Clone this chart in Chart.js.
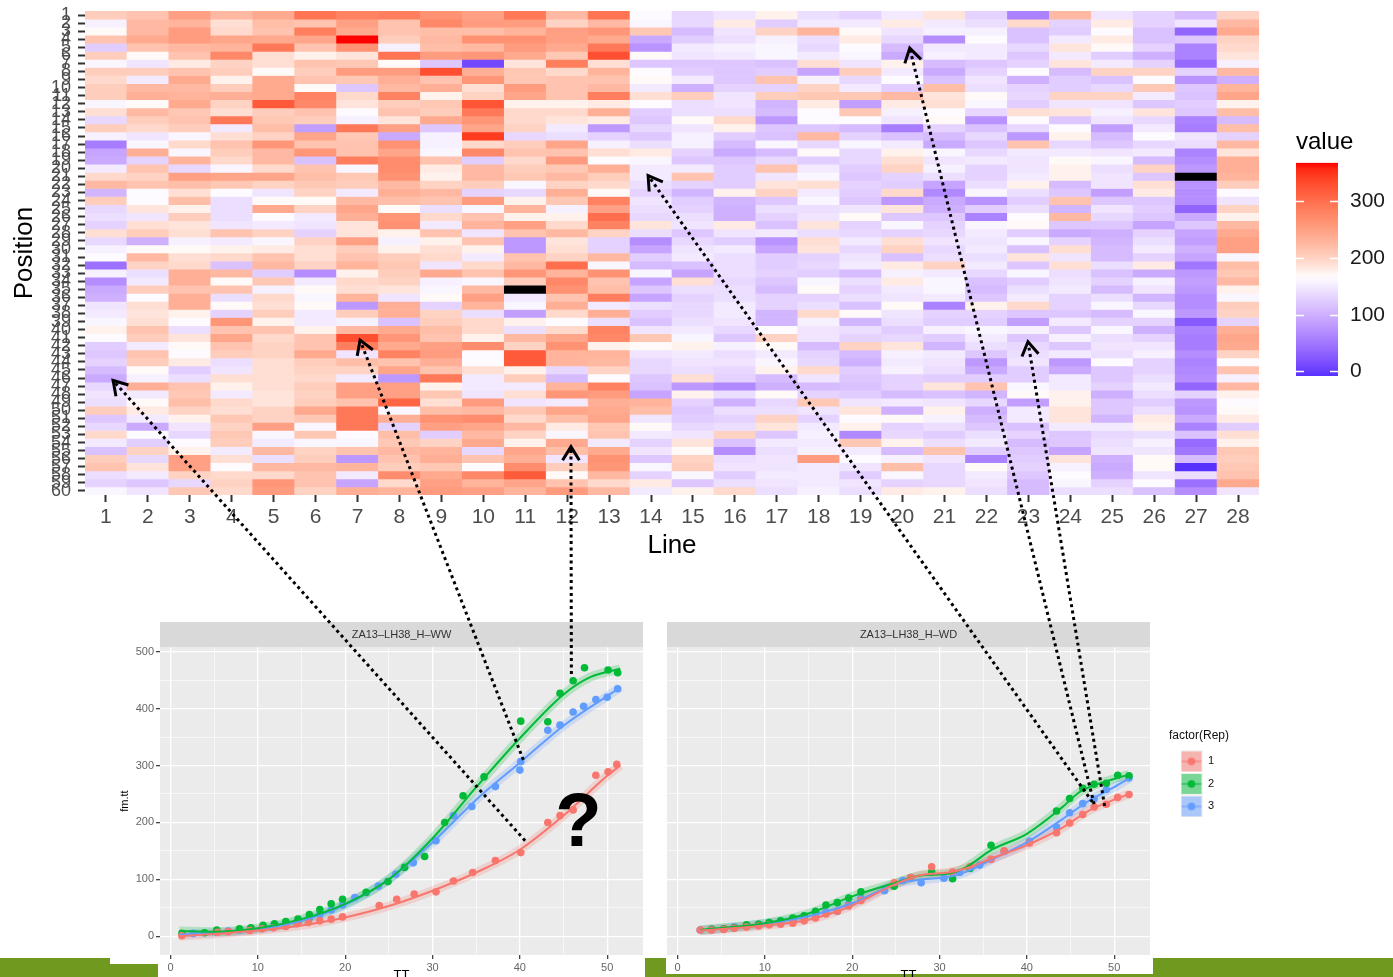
<!DOCTYPE html>
<html lang="en">
<head>
<meta charset="UTF-8" />
<title>Position x Line heatmap with growth curves</title>
<script src="https://cdn.jsdelivr.net/npm/chart.js"></script>
<style>
  body {
    margin: 0;
    width: 1393px;
    height: 977px;
    overflow: hidden;
    position: relative;
    background: #fff;
    font-family: 'Liberation Sans', Arial, sans-serif;
  }
  canvas, .block { position: absolute; }
  .green { left: 0; top: 958px; width: 1393px; height: 19px; background: #6f9a1f; }
  .white { background: #fff; }
  #overlay { z-index: 10; pointer-events: none; }
</style>
</head>
<body>
  <div class="block green"></div>
  <div class="block white" style="left:110px;top:600px;width:535px;height:364px"></div>
  <div class="block white" style="left:158px;top:964px;width:487px;height:13px"></div>
  <div class="block white" style="left:666px;top:600px;width:487px;height:374px"></div>

  <canvas id="heat" width="1275" height="565" style="left:0;top:0"></canvas>
  <canvas id="colorbar" width="108" height="260" style="left:1285px;top:125px"></canvas>
  <canvas id="ww" width="540" height="380" style="left:110px;top:612px"></canvas>
  <canvas id="wd" width="733" height="380" style="left:660px;top:612px"></canvas>
  <canvas id="overlay" width="1393" height="977" style="left:0;top:0"></canvas>

<script>
// ---- heatmap: one row per Position, one column per Line ----
const lines = [1,2,3,4,5,6,7,8,9,10,11,12,13,14,15,16,17,18,19,20,21,22,23,24,25,26,27,28];
const positions = [1,2,3,4,5,6,7,8,9,10,11,12,13,14,15,16,17,18,19,20,21,22,23,24,25,26,27,28,29,30,
  31,32,33,34,35,36,37,38,39,40,41,42,43,44,45,46,47,48,49,50,51,52,53,54,55,56,57,58,59,60];
const colorbarTicks = [0, 100, 200, 300];

// null = missing value (drawn black)
const cellValues = [
  [205,215,250,225,240,295,280,285,265,250,290,225,295,165,135,145,175,140,130,150,185,130,60,225,145,130,110,200],
  [155,225,230,190,220,215,250,215,275,255,255,200,225,160,135,180,125,150,150,180,150,140,195,130,180,130,145,225],
  [170,225,255,195,215,285,240,215,220,220,230,250,260,210,110,145,200,230,170,145,155,155,115,125,165,115,35,240],
  [215,240,255,245,240,245,368,205,225,265,265,250,240,95,125,140,155,140,180,135,70,165,115,150,180,115,120,200],
  [125,215,225,230,290,215,265,155,220,225,255,240,290,75,150,155,160,135,165,110,150,150,135,185,170,130,60,195],
  [205,170,215,275,190,175,185,295,255,260,240,210,330,170,145,150,160,150,160,95,155,150,120,150,125,100,60,185],
  [160,145,180,200,190,215,210,170,120,10,185,285,190,120,120,120,115,190,145,175,110,120,130,185,150,130,40,155],
  [205,205,215,205,170,205,255,255,330,235,210,195,230,165,125,120,125,90,205,150,95,130,165,110,200,200,130,225],
  [195,150,240,175,240,215,210,235,215,260,210,215,215,170,150,120,215,155,135,165,115,145,100,125,115,165,75,100],
  [205,225,225,205,240,170,120,225,235,190,255,215,225,150,100,130,130,200,150,125,220,140,130,125,135,210,120,230],
  [205,235,230,235,240,280,195,280,175,200,245,215,285,190,205,145,205,210,210,225,185,170,135,200,200,150,115,245],
  [160,170,240,200,320,275,185,205,210,325,175,175,180,165,140,145,105,180,85,180,190,160,125,145,145,120,125,175],
  [190,225,210,190,205,215,165,215,205,290,195,195,235,125,140,140,110,165,210,155,165,135,190,185,155,185,120,220],
  [135,205,215,290,210,205,155,185,240,260,195,185,180,120,170,195,80,165,165,145,170,75,165,120,145,135,60,110],
  [205,195,205,150,220,85,290,250,120,245,200,150,80,135,145,175,120,120,110,55,130,115,135,165,85,150,55,220],
  [155,145,160,190,200,245,210,95,155,345,135,140,130,120,155,125,115,225,130,115,110,135,80,175,110,165,145,130],
  [55,160,195,215,260,215,215,265,155,195,205,245,155,140,155,110,160,135,160,150,95,120,215,135,120,135,140,225],
  [90,235,160,205,225,260,215,245,160,275,215,215,190,180,130,95,110,170,135,175,160,135,150,150,145,150,60,185],
  [95,130,230,195,225,115,285,270,215,125,195,255,165,160,120,120,135,125,135,190,145,150,145,170,160,110,70,235],
  [150,215,135,160,195,215,160,270,180,225,205,210,235,150,150,125,215,150,125,200,155,130,145,175,140,200,80,235],
  [195,200,250,245,245,220,210,265,175,225,210,225,205,150,215,125,145,160,120,130,140,130,150,175,145,120,null,230],
  [225,215,220,210,200,210,205,225,200,205,160,200,195,140,130,125,185,190,130,125,90,140,175,110,145,190,75,205],
  [105,165,190,165,145,200,150,235,225,130,135,235,170,130,105,175,200,150,125,195,65,160,140,120,85,180,70,165],
  [205,165,220,140,170,170,225,220,215,255,175,210,280,145,125,105,120,160,120,80,95,75,125,215,120,120,70,145],
  [135,185,175,140,240,200,245,170,140,160,230,155,250,140,130,100,140,140,145,185,100,125,140,105,145,125,35,200],
  [140,145,205,140,165,150,235,260,195,215,175,175,300,135,140,100,130,145,170,120,120,60,165,225,135,120,95,175],
  [130,190,185,145,150,145,185,265,150,230,250,195,280,185,145,180,115,185,130,160,130,160,170,120,120,90,120,225],
  [190,205,190,215,200,130,185,175,215,145,215,225,200,140,120,145,150,140,135,130,135,150,125,95,100,130,90,240],
  [135,100,155,150,160,200,250,155,175,215,80,185,130,70,135,125,75,190,150,190,145,145,160,130,105,140,85,250],
  [155,170,170,175,180,190,205,175,190,175,80,190,130,90,145,150,90,185,135,200,135,150,115,190,110,150,100,250],
  [165,225,190,195,215,190,215,205,195,150,215,200,225,125,150,140,125,130,145,115,140,140,185,145,110,130,90,160],
  [45,200,195,115,225,200,230,210,145,195,225,300,160,110,115,140,125,135,150,180,200,150,120,190,140,180,50,220],
  [155,140,235,225,125,70,175,205,240,215,260,230,265,160,90,140,130,125,110,155,150,135,160,140,115,95,80,210],
  [70,150,235,170,210,150,195,200,155,160,205,275,215,90,190,135,120,160,140,180,160,115,125,145,130,155,85,225],
  [95,205,215,215,155,170,190,185,160,225,null,265,220,120,140,140,110,170,130,150,160,110,140,150,110,145,80,175],
  [100,165,235,140,195,160,230,145,170,250,150,215,285,90,130,140,130,130,140,145,150,120,150,130,140,105,70,160],
  [145,190,235,170,190,170,80,235,130,230,160,235,150,140,135,150,130,140,115,170,60,175,195,130,160,135,70,205],
  [150,185,175,130,205,150,205,235,200,140,85,195,235,125,135,150,105,195,170,145,130,130,120,120,110,160,80,200],
  [160,190,165,260,175,150,155,115,205,195,175,165,140,115,140,145,105,155,105,140,125,125,85,150,130,130,25,130],
  [175,215,140,215,215,175,225,240,220,195,140,195,280,145,150,135,165,145,140,125,155,160,155,120,160,100,60,235],
  [165,205,185,245,195,215,330,260,215,175,225,245,275,210,160,120,200,145,130,135,125,150,120,155,140,130,55,245],
  [125,150,170,215,200,215,285,240,250,270,200,265,175,170,175,155,170,110,200,185,105,140,135,120,145,145,55,240],
  [120,215,165,205,200,240,145,280,255,165,320,230,230,145,150,140,150,130,110,155,150,120,140,150,140,155,70,200],
  [130,205,180,140,190,205,220,215,235,165,320,230,225,135,145,145,160,135,100,150,145,80,145,80,165,130,60,165],
  [110,170,125,145,190,200,200,245,215,190,175,135,200,135,140,135,175,195,125,155,140,95,125,95,120,130,65,215],
  [95,155,140,190,190,195,150,80,290,150,205,110,165,120,190,130,110,145,120,130,125,125,125,150,120,140,70,155],
  [135,235,215,175,190,205,250,250,175,150,150,230,280,115,80,65,100,110,115,130,185,215,160,150,130,150,35,225],
  [145,150,210,150,185,200,250,250,210,145,190,260,255,90,175,140,170,130,125,110,115,105,170,175,100,140,130,175],
  [140,170,220,195,185,205,215,310,190,255,145,150,235,230,130,100,135,210,145,150,145,135,85,175,120,125,80,165],
  [205,180,200,190,200,240,290,160,220,225,210,245,240,220,120,140,140,145,185,100,175,100,150,185,120,140,75,170],
  [120,150,175,210,200,210,290,235,265,270,195,220,245,145,125,130,200,130,165,170,155,110,150,185,105,180,95,180],
  [135,95,145,200,250,160,290,130,250,245,225,180,210,170,135,140,185,150,175,130,140,120,115,150,150,175,60,125],
  [195,165,135,210,160,210,165,220,125,225,200,160,215,150,145,200,120,155,65,135,125,140,130,120,135,140,115,190],
  [150,125,165,205,150,160,160,210,200,240,175,240,150,130,185,115,150,150,210,175,140,150,110,120,140,155,40,175],
  [115,200,175,150,225,200,215,225,230,135,245,220,240,145,170,70,140,155,150,110,215,125,120,90,145,145,50,210],
  [205,135,250,190,140,205,80,215,235,215,235,145,265,120,200,140,145,255,165,155,145,60,125,185,100,170,110,205],
  [215,185,250,165,225,225,230,205,210,165,270,205,260,160,205,145,145,150,145,220,135,170,130,155,95,170,-8,210],
  [140,150,200,195,195,215,150,270,240,275,320,170,225,130,160,125,150,150,125,160,135,150,120,165,100,145,140,215],
  [130,120,135,200,260,215,90,195,250,230,245,215,195,180,120,140,145,150,145,130,135,145,110,160,130,165,45,240],
  [160,145,210,195,255,200,235,230,255,250,230,255,225,150,175,195,140,155,140,180,175,140,110,140,140,115,70,145]
];

// ---- growth curves (TT, fm.tt) per replicate ----
const wwRep1 = [[1.3,1],[5.4,7],[6.6,8],[9.1,10],[10.5,13],[11.8,15],[13.2,17],[14.5,22],[15.8,24],[17.1,27],[18.4,30],[19.7,34],
  [23.9,54],[25.9,65],[27.9,74],[30.4,78],[32.4,97],[34.6,112],[37.2,133],[40.1,147],[43.2,200],[44.6,212],[46.1,222],[48.7,283],[50.1,289],[51.1,302]];
const wwRep2 = [[1.3,5],[3.9,6],[5.3,11],[7.9,13],[9.2,15],[10.6,19],[11.9,22],[13.2,26],[14.6,30],[15.9,38],[17.1,47],[18.4,57],[19.7,65],
  [22.4,77],[24.9,96],[26.8,121],[29.1,140],[31.4,200],[33.5,247],[35.9,280],[40.1,378],[43.2,377],[44.6,427],[46.1,449],[47.4,472],[50.1,468],[51.2,463]];
const wwRep3 = [[2.6,5],[5.3,7],[6.6,9],[7.9,11],[9.2,13],[10.6,16],[11.9,19],[13.2,20],[14.6,24],[15.9,32],[17.1,38],[18.4,46],[19.7,55],
  [21.1,68],[23.8,88],[25.8,109],[27.8,129],[30.4,168],[32.4,212],[34.5,228],[37.2,263],[40.0,292],[40.1,307],[43.2,362],[44.6,371],[46.1,394],
  [47.3,404],[48.7,416],[50.0,420],[51.2,435]];
const wwFit1 = [[1,0],[5,4],[10,10],[15,19],[20,33],[25,53],[30,80],[35,112],[40,152],[45,212],[50,282],[51.5,300]];
const wwFit2 = [[1,9],[5,8],[10,14],[15,30],[20,57],[25,100],[30,172],[35,262],[40,348],[45,425],[48,455],[51.5,470]];
const wwFit3 = [[1,3],[5,6],[10,12],[15,27],[20,55],[25,100],[30,165],[35,240],[40,305],[45,370],[50,422],[51.5,437]];

const wdRep1 = [[2.6,11],[3.9,11],[5.3,12],[6.5,14],[7.9,16],[9.3,18],[10.5,20],[11.8,21],[13.2,23],[14.5,27],[15.8,32],[17.0,39],[18.3,44],
  [19.6,53],[21.0,63],[24.8,94],[26.7,103],[29.1,122],[31.5,113],[33.5,122],[35.9,135],[37.4,150],[40.3,164],[43.4,182],[44.9,199],[46.4,214],
  [47.7,227],[49.1,232],[50.4,244],[51.7,249]];
const wdRep2 = [[3.9,12],[5.3,13],[6.5,15],[7.9,20],[9.3,21],[10.5,24],[11.8,27],[13.2,32],[14.5,36],[15.8,44],[17.0,55],[18.3,59],[19.6,67],
  [21.0,78],[24.8,88],[26.7,103],[29.1,113],[31.5,101],[33.5,119],[35.9,160],[43.4,220],[44.9,242],[46.4,260],[47.7,267],[49.1,269],[50.4,283],[51.7,282]];
const wdRep3 = [[2.6,11],[3.9,12],[5.3,13],[6.5,16],[7.9,18],[9.3,21],[10.5,24],[11.8,26],[13.2,28],[14.5,34],[15.8,37],[17.0,42],[18.3,44],
  [19.6,56],[21.0,67],[23.7,80],[25.8,98],[27.9,94],[30.5,102],[32.3,112],[34.6,125],[37.4,149],[40.3,167],[43.4,192],[44.9,217],[46.4,233],
  [47.7,241],[49.1,258],[51.7,278]];
const wdFit1 = [[2.6,10],[10,19],[15,29],[20,54],[25,92],[28,108],[31,112],[33,119],[36,137],[40,160],[44,190],[47,220],[50,240],[51.7,250]];
const wdFit2 = [[2.6,11],[10,23],[15,40],[20,70],[25,94],[28,107],[31,110],[33,121],[36,152],[40,180],[44,226],[46,253],[48,267],[51.7,284]];
const wdFit3 = [[2.6,10],[10,22],[15,35],[20,58],[25,92],[28,100],[31,104],[33,113],[36,135],[40,165],[44,205],[47,237],[50,262],[51.7,277]];

const repNames = ['1', '2', '3'];
const repColors = ['#F8766D', '#00BA38', '#619CFF'];
const ttMajor = [0, 10, 20, 30, 40, 50];
const ttMinor = [5, 15, 25, 35, 45];
const fmMajor = [0, 100, 200, 300, 400, 500];
const fmMinor = [50, 150, 250, 350, 450];

// dotted arrows: curve point [panel, TT, fm.tt] -> heatmap cell [Line, Position]
const arrowFrom = [['WW', 40.6, 168], ['WW', 40.4, 310], ['WW', 45.9, 461], ['WD', 47.5, 236], ['WD', 47.7, 232], ['WD', 48.9, 229]];
const arrowTo = [[1.17, 46.3], [7.06, 41.3], [12.09, 54.5], [13.93, 20.9], [20.17, 5.1], [22.99, 41.5]];

// ---- diverging blue / white / red fill, interpolated in Lab ----
const fillMid = 168;
const flat = cellValues.flat().filter(v => v !== null);
const valueMin = Math.min(...flat);
const valueMax = Math.max(...flat);
const halfRange = Math.max(fillMid - valueMin, valueMax - fillMid);

function hexToLab(hex) {
  const c = [1, 3, 5].map(i => parseInt(hex.slice(i, i + 2), 16) / 255)
    .map(v => v <= 0.04045 ? v / 12.92 : Math.pow((v + 0.055) / 1.055, 2.4));
  const x = (0.4124 * c[0] + 0.3576 * c[1] + 0.1805 * c[2]) / 0.95047;
  const y = 0.2126 * c[0] + 0.7152 * c[1] + 0.0722 * c[2];
  const z = (0.0193 * c[0] + 0.1192 * c[1] + 0.9505 * c[2]) / 1.08883;
  const f = t => t > 0.008856 ? Math.cbrt(t) : 7.787 * t + 16 / 116;
  return [116 * f(y) - 16, 500 * (f(x) - f(y)), 200 * (f(y) - f(z))];
}

function labToRgb(L, a, b) {
  const fy = (L + 16) / 116, fx = fy + a / 500, fz = fy - b / 200;
  const inv = t => t * t * t > 0.008856 ? t * t * t : (t - 16 / 116) / 7.787;
  const x = inv(fx) * 0.95047, y = inv(fy), z = inv(fz) * 1.08883;
  const lin = [
    3.2406 * x - 1.5372 * y - 0.4986 * z,
    -0.9689 * x + 1.8758 * y + 0.0415 * z,
    0.0557 * x - 0.2040 * y + 1.0570 * z
  ];
  const rgb = lin.map(v => {
    const s = v <= 0.0031308 ? 12.92 * v : 1.055 * Math.pow(Math.max(v, 0), 1 / 2.4) - 0.055;
    return Math.round(Math.min(1, Math.max(0, s)) * 255);
  });
  return `rgb(${rgb[0]},${rgb[1]},${rgb[2]})`;
}

const labLow = hexToLab('#0000FF');
const labMid = hexToLab('#FFFFFF');
const labHigh = hexToLab('#FF0000');

function fillColor(v) {
  if (v === null) return '#000000';
  const t = 0.5 + (v - fillMid) / (2 * halfRange);
  let from, to, k;
  if (t < 0.5) { from = labLow; to = labMid; k = t / 0.5; }
  else { from = labMid; to = labHigh; k = Math.pow((t - 0.5) / 0.5, 0.8); }
  return labToRgb(...from.map((c, i) => c + (to[i] - c) * k));
}

Chart.defaults.font.family = "'Liberation Sans', Arial, sans-serif";

// ---- heatmap ----
const heatChart = new Chart(document.getElementById('heat'), {
  type: 'bar',
  data: {
    labels: lines.map(String),
    datasets: positions.map((p, i) => ({
      data: lines.map(() => [p - 0.5, p + 0.5]),
      backgroundColor: cellValues[i].map(fillColor),
      borderWidth: 0,
      grouped: false,
      barPercentage: 1,
      categoryPercentage: 1
    }))
  },
  options: {
    responsive: false,
    animation: false,
    layout: { padding: { top: 11, right: 16, left: 0, bottom: 0 } },
    plugins: { legend: { display: false }, tooltip: { enabled: false } },
    scales: {
      x: {
        grid: { drawOnChartArea: false, offset: false, tickLength: 7, tickWidth: 2, tickColor: '#333' },
        border: { display: false },
        ticks: { font: { size: 21 }, color: '#4d4d4d', padding: 3, maxRotation: 0, autoSkip: false },
        title: { display: true, text: 'Line', font: { size: 26 }, color: '#000', padding: { top: 0, bottom: 4 } },
        afterFit: s => { s.height = 70; s.paddingLeft = 0; s.paddingRight = 0; }
      },
      y: {
        type: 'linear',
        reverse: true,
        min: 0.5,
        max: 60.5,
        afterBuildTicks: s => { s.ticks = positions.map(v => ({ value: v })); },
        grid: { drawOnChartArea: false, tickLength: 7, tickWidth: 2, tickColor: '#333' },
        border: { display: false },
        ticks: { font: { size: 18 }, color: '#4d4d4d', autoSkip: false, padding: 7 },
        title: { display: true, text: 'Position', font: { size: 26 }, color: '#000', padding: { top: 9, bottom: 0 } },
        afterFit: s => { s.width = 85; s.paddingTop = 0; s.paddingBottom = 0; }
      }
    }
  }
});

// ---- colour bar legend ----
function barGradient(chart) {
  const y = chart.scales.y;
  if (!y || !chart.chartArea) return '#fff';
  const p0 = y.getPixelForValue(valueMin), p1 = y.getPixelForValue(valueMax);
  if (!isFinite(p0) || !isFinite(p1)) return '#fff';
  const g = chart.ctx.createLinearGradient(0, p0, 0, p1);
  for (let k = 0; k <= 40; k++) {
    g.addColorStop(k / 40, fillColor(valueMin + (valueMax - valueMin) * k / 40));
  }
  return g;
}

const colorbarMarks = {
  id: 'colorbarMarks',
  afterDatasetsDraw(chart) {
    const { ctx, chartArea: a, scales: { y } } = chart;
    ctx.save();
    ctx.strokeStyle = '#fff';
    ctx.lineWidth = 1.5;
    colorbarTicks.forEach(v => {
      const py = Math.round(y.getPixelForValue(v)) + 0.5;
      ctx.beginPath();
      ctx.moveTo(a.left, py); ctx.lineTo(a.left + 8, py);
      ctx.moveTo(a.right - 8, py); ctx.lineTo(a.right, py);
      ctx.stroke();
    });
    ctx.restore();
  }
};

const colorbarChart = new Chart(document.getElementById('colorbar'), {
  type: 'bar',
  data: {
    labels: [''],
    datasets: [{
      data: [[valueMin, valueMax]],
      backgroundColor: ctx => barGradient(ctx.chart),
      borderWidth: 0,
      barPercentage: 1,
      categoryPercentage: 1
    }]
  },
  options: {
    responsive: false,
    animation: false,
    layout: { padding: { left: 11, right: 0, top: 0, bottom: 9 } },
    plugins: {
      legend: { display: false },
      tooltip: { enabled: false },
      title: { display: true, text: 'value', align: 'start', font: { size: 24, weight: 'normal' }, color: '#000', padding: { top: 3, bottom: 6 } }
    },
    scales: {
      x: { display: false },
      y: {
        position: 'right',
        min: valueMin,
        max: valueMax,
        afterBuildTicks: s => { s.ticks = colorbarTicks.map(v => ({ value: v })); },
        grid: { display: false, drawTicks: false },
        border: { display: false },
        ticks: { font: { size: 21 }, color: '#1a1a1a', padding: 12 },
        afterFit: s => { s.width = 55; s.paddingTop = 0; s.paddingBottom = 0; }
      }
    }
  },
  plugins: [colorbarMarks]
});
colorbarChart.update();

// ---- growth curve panels ----
const panelLook = {
  id: 'panelLook',
  beforeDraw(chart) {
    const { ctx, chartArea: a } = chart;
    ctx.save();
    ctx.fillStyle = '#ebebeb';
    ctx.fillRect(a.left, a.top, a.right - a.left, a.bottom - a.top);
    const t = chart.titleBlock;
    if (t) {
      ctx.fillStyle = '#d9d9d9';
      ctx.fillRect(a.left, t.top, a.right - a.left, a.top - t.top);
    }
    ctx.restore();
  }
};

const questionMark = {
  id: 'questionMark',
  afterDatasetsDraw(chart, args, opts) {
    if (!opts.show) return;
    const { ctx, scales: { x, y } } = chart;
    ctx.save();
    ctx.font = "bold 76px 'Liberation Sans', Arial, sans-serif";
    ctx.fillStyle = '#000';
    ctx.textAlign = 'center';
    ctx.textBaseline = 'alphabetic';
    ctx.fillText('?', x.getPixelForValue(46.7), y.getPixelForValue(159));
    ctx.restore();
  }
};

// keeps the legend box wide enough for its title
const legendWidth = {
  id: 'legendWidth',
  afterInit(chart, args, opts) {
    const lg = chart.legend;
    if (!lg || !opts.width) return;
    const fit = lg.fit.bind(lg);
    lg.fit = function () { fit(); this.width = opts.width; };
  }
};

function withAlpha(hex, a) {
  const n = parseInt(hex.slice(1), 16);
  return `rgba(${n >> 16},${(n >> 8) & 255},${n & 255},${a})`;
}

function keyImage(color) {
  const c = document.createElement('canvas');
  c.width = 22; c.height = 22;
  const g = c.getContext('2d');
  g.fillStyle = '#f2f2f2';
  g.fillRect(0, 0, 22, 22);
  g.fillStyle = withAlpha(color, 0.5);
  g.fillRect(1, 1, 20, 20);
  g.strokeStyle = color;
  g.lineWidth = 1;
  g.beginPath(); g.moveTo(1, 11); g.lineTo(21, 11); g.stroke();
  g.fillStyle = color;
  g.beginPath(); g.arc(11, 11, 3.8, 0, Math.PI * 2); g.fill();
  return c;
}

const mergedTicks = (major, minor) => major.concat(minor).sort((p, q) => p - q).map(v => ({ value: v }));
const isMajor = (list, v) => list.includes(v);

function growthChart(id, stripText, reps, fits, opts) {
  const fitSets = fits.map((f, i) => ({
    data: f.map(([x, y]) => ({ x, y })),
    showLine: true, pointRadius: 0, borderColor: repColors[i], borderWidth: 2,
    cubicInterpolationMode: 'monotone'
  }));
  const pointSets = reps.map((r, i) => ({
    data: r.map(([x, y]) => ({ x, y })),
    pointRadius: 3.8, pointBackgroundColor: repColors[i], pointBorderWidth: 0, backgroundColor: repColors[i]
  }));
  const bandSets = fits.map((f, i) => ({
    data: f.map(([x, y]) => ({ x, y })),
    showLine: true, pointRadius: 0, borderColor: withAlpha(repColors[i], 0.22), borderWidth: 9,
    cubicInterpolationMode: 'monotone'
  }));

  const scales = {
    x: {
      type: 'linear', min: -1.2, max: 54.1,
      afterBuildTicks: s => { s.ticks = mergedTicks(ttMajor, ttMinor); },
      grid: {
        color: '#fff',
        lineWidth: c => isMajor(ttMajor, c.tick.value) ? 1.3 : 0.6,
        tickColor: c => isMajor(ttMajor, c.tick.value) ? '#444' : 'rgba(0,0,0,0)',
        tickLength: 4
      },
      border: { display: false },
      ticks: { callback: v => isMajor(ttMajor, v) ? String(v) : '', font: { size: 11 }, color: '#666', padding: 2, maxRotation: 0, autoSkip: false },
      title: { display: true, text: 'TT', color: '#000', font: { size: 13 }, padding: { top: 0, bottom: 9 } },
      afterFit: s => { s.height = 37; }
    },
    y: {
      type: 'linear', min: -33, max: 508,
      afterBuildTicks: s => { s.ticks = mergedTicks(fmMajor, fmMinor); },
      grid: {
        color: '#fff',
        lineWidth: c => isMajor(fmMajor, c.tick.value) ? 1.3 : 0.6,
        tickColor: c => isMajor(fmMajor, c.tick.value) ? '#444' : 'rgba(0,0,0,0)',
        tickLength: 4,
        drawTicks: opts.yLabels
      },
      border: { display: false },
      ticks: {
        display: opts.yLabels,
        callback: v => isMajor(fmMajor, v) ? String(v) : '',
        font: { size: 11 }, color: '#666', padding: 2, autoSkip: false
      },
      title: { display: opts.yLabels, text: 'fm.tt', color: '#000', font: { size: 11 }, padding: { top: 8, bottom: 0 } },
      afterFit: s => { s.width = opts.yWidth; }
    }
  };
  if (opts.legend) {
    // empty right-hand axis used as the gap between panel and legend
    scales.gap = {
      type: 'linear', position: 'right', display: true,
      grid: { display: false, drawTicks: false }, ticks: { display: false }, border: { display: false },
      afterFit: s => { s.width = opts.legendGap; }
    };
  }

  return new Chart(document.getElementById(id), {
    type: 'scatter',
    data: { datasets: fitSets.concat(pointSets, bandSets) },
    options: {
      responsive: false,
      animation: false,
      layout: { padding: { top: 10, left: 0, right: opts.padRight, bottom: 0 } },
      plugins: {
        tooltip: { enabled: false },
        title: {
          display: true, text: stripText, fullSize: false, color: '#333',
          font: { size: 11, weight: 'normal' }, padding: { top: 6, bottom: 6 }
        },
        legend: opts.legend ? {
          display: true,
          position: 'right',
          align: 'start',
          title: { display: true, text: 'factor(Rep)', color: '#111', font: { size: 12 }, position: 'start', padding: { top: 108, bottom: 0 } },
          labels: {
            usePointStyle: true, pointStyleWidth: 22, padding: 11.5, color: '#222', font: { size: 11 },
            generateLabels: () => repNames.map((name, i) => ({
              text: name, pointStyle: keyImage(repColors[i]), fillStyle: repColors[i],
              strokeStyle: repColors[i], lineWidth: 0, hidden: false, datasetIndex: i
            }))
          }
        } : { display: false },
        legendWidth: { width: opts.legend ? 90 : 0 },
        questionMark: { show: !!opts.question }
      },
      scales
    },
    plugins: [panelLook, questionMark, legendWidth]
  });
}

const wwChart = growthChart('ww', 'ZA13\u2013LH38_H\u2013WW', [wwRep1, wwRep2, wwRep3], [wwFit1, wwFit2, wwFit3],
  { padRight: 7, yWidth: 50, yLabels: true, legend: false, question: true });
const wdChart = growthChart('wd', 'ZA13\u2013LH38_H\u2013WD', [wdRep1, wdRep2, wdRep3], [wdFit1, wdFit2, wdFit3],
  { padRight: 134, yWidth: 7, yLabels: false, legend: true, legendGap: 19, question: false });

// ---- dotted arrows from curve points up to heatmap cells ----
function drawArrows() {
  const ctx = document.getElementById('overlay').getContext('2d');
  const hx = heatChart.scales.x, hy = heatChart.scales.y;
  const heatCanvas = heatChart.canvas;
  ctx.strokeStyle = '#000';
  arrowFrom.forEach(([panel, tt, fm], k) => {
    const chart = panel === 'WW' ? wwChart : wdChart;
    const x0 = chart.canvas.offsetLeft + chart.scales.x.getPixelForValue(tt);
    const y0 = chart.canvas.offsetTop + chart.scales.y.getPixelForValue(fm);
    const [line, pos] = arrowTo[k];
    const x1 = heatCanvas.offsetLeft + hx.getPixelForValue(line - 1);
    const y1 = heatCanvas.offsetTop + hy.getPixelForValue(pos);

    ctx.lineWidth = 3;
    ctx.setLineDash([3, 3.5]);
    ctx.beginPath();
    ctx.moveTo(x0, y0);
    ctx.lineTo(x1, y1);
    ctx.stroke();

    const ang = Math.atan2(y1 - y0, x1 - x0);
    ctx.setLineDash([]);
    ctx.beginPath();
    ctx.moveTo(x1 - 16 * Math.cos(ang - 0.55), y1 - 16 * Math.sin(ang - 0.55));
    ctx.lineTo(x1, y1);
    ctx.lineTo(x1 - 16 * Math.cos(ang + 0.55), y1 - 16 * Math.sin(ang + 0.55));
    ctx.stroke();
  });
}
drawArrows();
</script>
</body>
</html>
